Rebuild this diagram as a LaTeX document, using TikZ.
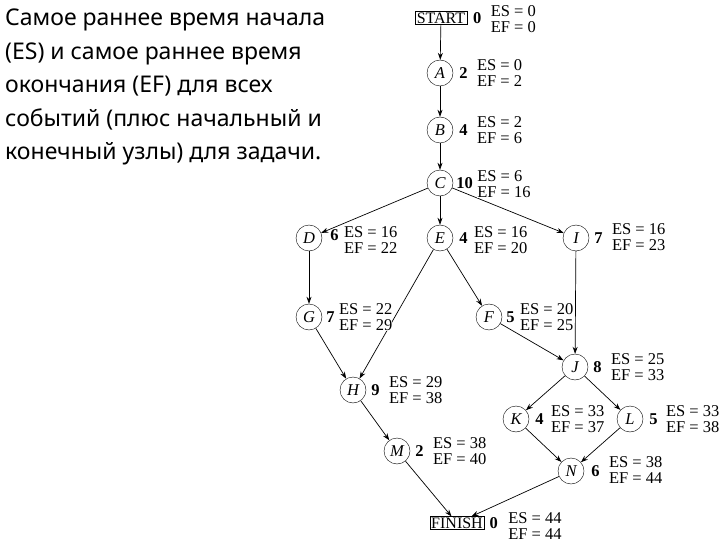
\documentclass[tikz,border=0pt]{standalone}
\usepackage{fontspec}
\setmainfont{Liberation Serif}
\newfontfamily\captfont{Noto Sans}
\usetikzlibrary{arrows.meta, positioning}

\tikzset{
    ev/.style={draw, circle, minimum size=26pt, inner sep=0pt, font=\fontsize{16.5}{16.5}\selectfont\itshape},
    endbox/.style={draw, rectangle, inner xsep=1.5pt, inner ysep=1pt, font=\fontsize{16}{16}\selectfont},
    dur/.style={inner sep=0pt, font=\fontsize{16.5}{16.5}\selectfont\bfseries},
    info/.style={inner sep=0pt, align=left, font=\fontsize{16.5}{16}\selectfont},
    act/.style={-{Stealth[length=7pt,width=5pt]}, line width=0.7pt}
}

\begin{document}
\begin{tikzpicture}[x=1pt, y=-1pt]
    \useasboundingbox (0,0) rectangle (720,540);

    % caption
    \node[anchor=north west, align=left, inner sep=0pt,
          font=\captfont\fontsize{23}{33.5}\selectfont] (capt) at (5,9)
        {Самое раннее время начала\\(ES) и самое раннее время\\окончания (EF) для всех\\событий (плюс начальный и\\конечный узлы) для задачи.};

    % events
    \node[endbox] (start) at (441,18) {START};
    \node[ev] (A) at (440,73) {A};
    \node[ev] (B) at (440,130) {B};
    \node[ev] (C) at (440,183) {C};
    \node[ev] (D) at (309,238) {D};
    \node[ev] (E) at (440,238) {E};
    \node[ev] (I) at (576,238) {I};
    \node[ev] (G) at (309,317) {G};
    \node[ev] (F) at (489,317) {F};
    \node[ev] (J) at (575,367) {J};
    \node[ev] (H) at (353,390) {H};
    \node[ev] (K) at (516,419) {K};
    \node[ev] (L) at (630,419) {L};
    \node[ev] (M) at (397,451) {M};
    \node[ev] (N) at (571,471) {N};
    \node[endbox] (finish) at (457,523) {FINISH};

    % activities
    \draw[act] (start) -- (A);
    \draw[act] (A) -- (B);
    \draw[act] (B) -- (C);
    \draw[act] (C) -- (D);
    \draw[act] (C) -- (E);
    \draw[act] (C) -- (I);
    \draw[act] (D) -- (G);
    \draw[act] (E) -- (H);
    \draw[act] (E) -- (F);
    \draw[act] (G) -- (H);
    \draw[act] (F) -- (J);
    \draw[act] (I) -- (J);
    \draw[act] (H) -- (M);
    \draw[act] (J) -- (K);
    \draw[act] (J) -- (L);
    \draw[act] (K) -- (N);
    \draw[act] (L) -- (N);
    \draw[act] (M) -- (finish);
    \draw[act] (N) -- (finish);

    % durations and times
    \node[dur, right=6pt of start] (dstart) {0};
    \node[info, fill=white, right=9pt of dstart, yshift=-1pt] (istart) {ES = 0\\EF = 0};
    \node[dur, right=6pt of A] (dA) {2};
    \node[info, fill=white, right=9pt of dA] (iA) {ES = 0\\EF = 2};
    \node[dur, right=6pt of B] (dB) {4};
    \node[info, fill=white, right=9pt of dB] (iB) {ES = 2\\EF = 6};
    \node[dur, right=3pt of C] (dC) {10};
    \node[info, fill=white, right=4pt of dC, yshift=-1pt] (iC) {ES = 6\\EF = 16};
    \node[dur, right=8pt of D, yshift=3pt] (dD) {6};
    \node[info, fill=white, right=5pt of dD, yshift=-5pt] (iD) {ES = 16\\EF = 22};
    \node[dur, right=6pt of E] (dE) {4};
    \node[info, fill=white, right=6pt of dE, yshift=-2pt] (iE) {ES = 16\\EF = 20};
    \node[dur, right=5pt of I] (dI) {7};
    \node[info, fill=white, right=9pt of dI, yshift=1pt] (iI) {ES = 16\\EF = 23};
    \node[dur, right=4pt of G] (dG) {7};
    \node[info, fill=white, right=4pt of dG] (iG) {ES = 22\\EF = 29};
    \node[dur, right=4pt of F] (dF) {5};
    \node[info, fill=white, right=5pt of dF] (iF) {ES = 20\\EF = 25};
    \node[dur, right=5pt of J] (dJ) {8};
    \node[info, fill=white, right=9pt of dJ] (iJ) {ES = 25\\EF = 33};
    \node[dur, right=5pt of H] (dH) {9};
    \node[info, fill=white, right=9pt of dH] (iH) {ES = 29\\EF = 38};
    \node[dur, right=6pt of K] (dK) {4};
    \node[info, fill=white, right=7pt of dK] (iK) {ES = 33\\EF = 37};
    \node[dur, right=6pt of L] (dL) {5};
    \node[info, fill=white, right=8pt of dL] (iL) {ES = 33\\EF = 38};
    \node[dur, right=5pt of M] (dM) {2};
    \node[info, fill=white, right=9pt of dM] (iM) {ES = 38\\EF = 40};
    \node[dur, right=7pt of N] (dN) {6};
    \node[info, fill=white, right=9pt of dN, yshift=1pt] (iN) {ES = 38\\EF = 44};
    \node[dur, right=5pt of finish] (dfinish) {0};
    \node[info, fill=white, right=10pt of dfinish, yshift=-3pt] (ifinish) {ES = 44\\EF = 44};
\end{tikzpicture}
\end{document}
